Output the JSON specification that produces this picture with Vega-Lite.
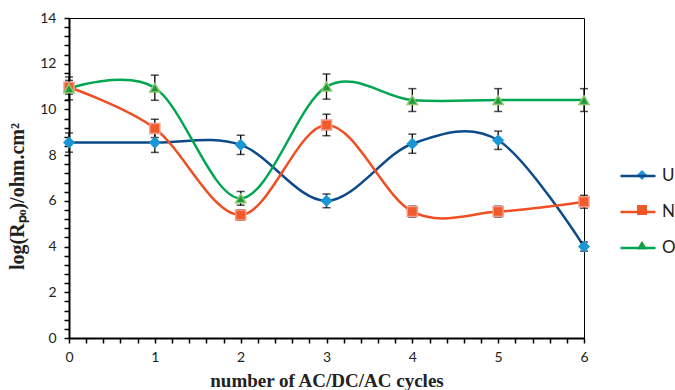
{
  "$schema": "https://vega.github.io/schema/vega-lite/v6.json",
  "width": 515,
  "height": 320,
  "autosize": {"type": "none"},
  "padding": {"left": 69, "top": 18, "right": 91, "bottom": 52},
  "background": "white",
  "config": {
    "view": {"stroke": "#000", "strokeWidth": 1},
    "axis": {"grid": false, "domainColor": "#000", "domainWidth": 2, "tickColor": "#000", "tickWidth": 1.5, "labelFont": "Lato", "labelFontSize": 14, "labelColor": "#222", "titleFont": "Liberation Serif", "titleFontWeight": "bold", "titleColor": "#222"}
  },
  "data": {
    "values": [
      {"series": "U", "x": 0, "y": 8.55, "lo": 8.13, "hi": 8.97},
      {"series": "U", "x": 1, "y": 8.55, "lo": 8.12, "hi": 8.98},
      {"series": "U", "x": 2, "y": 8.45, "lo": 8.03, "hi": 8.87},
      {"series": "U", "x": 3, "y": 6.0, "lo": 5.7, "hi": 6.3},
      {"series": "U", "x": 4, "y": 8.5, "lo": 8.08, "hi": 8.92},
      {"series": "U", "x": 5, "y": 8.65, "lo": 8.25, "hi": 9.05},
      {"series": "U", "x": 6, "y": 4.0, "lo": 3.8, "hi": 4.2},
      {"series": "N", "x": 0, "y": 10.97, "lo": 10.67, "hi": 11.27},
      {"series": "N", "x": 1, "y": 9.17, "lo": 8.77, "hi": 9.57},
      {"series": "N", "x": 2, "y": 5.38, "lo": 5.15, "hi": 5.61},
      {"series": "N", "x": 3, "y": 9.32, "lo": 8.85, "hi": 9.79},
      {"series": "N", "x": 4, "y": 5.53, "lo": 5.29, "hi": 5.77},
      {"series": "N", "x": 5, "y": 5.53, "lo": 5.29, "hi": 5.77},
      {"series": "N", "x": 6, "y": 5.96, "lo": 5.68, "hi": 6.24},
      {"series": "O", "x": 0, "y": 10.92, "lo": 10.42, "hi": 11.42},
      {"series": "O", "x": 1, "y": 10.95, "lo": 10.4, "hi": 11.5},
      {"series": "O", "x": 2, "y": 6.11, "lo": 5.81, "hi": 6.41},
      {"series": "O", "x": 3, "y": 11.0, "lo": 10.45, "hi": 11.55},
      {"series": "O", "x": 4, "y": 10.41, "lo": 9.91, "hi": 10.91},
      {"series": "O", "x": 5, "y": 10.41, "lo": 9.91, "hi": 10.91},
      {"series": "O", "x": 6, "y": 10.41, "lo": 9.91, "hi": 10.91}
    ]
  },
  "encoding": {
    "x": {
      "field": "x", "type": "quantitative",
      "scale": {"domain": [0, 6], "nice": false, "zero": false},
      "axis": {
        "values": [0,0.2,0.4,0.6,0.8,1,1.2,1.4,1.6,1.8,2,2.2,2.4,2.6,2.8,3,3.2,3.4,3.6,3.8,4,4.2,4.4,4.6,4.8,5,5.2,5.4,5.6,5.8,6],
        "labelExpr": "abs(datum.value - round(datum.value)) < 0.01 ? format(round(datum.value), 'd') : ''",
        "tickSize": 5, "labelPadding": 7, "labelFlush": false,
        "title": "number of AC/DC/AC cycles", "titleFontSize": 19,
        "titleBaseline": "alphabetic", "titleY": 48
      }
    },
    "y": {
      "field": "y", "type": "quantitative",
      "scale": {"domain": [0, 14], "nice": false},
      "axis": {
        "values": [0,0.4,0.8,1.2,1.6,2,2.4,2.8,3.2,3.6,4,4.4,4.8,5.2,5.6,6,6.4,6.8,7.2,7.6,8,8.4,8.8,9.2,9.6,10,10.4,10.8,11.2,11.6,12,12.4,12.8,13.2,13.6,14],
        "labelExpr": "abs(datum.value/2 - round(datum.value/2)) < 0.01 ? format(round(datum.value), 'd') : ''",
        "tickSize": 5, "labelPadding": 8, "labelFlush": false,
        "title": "log(Rₚₒ)/ohm.cm²", "titleFontSize": 20,
        "titleX": -42, "titleY": 178, "titleBaseline": "bottom", "titleAngle": -90
      }
    }
  },
  "layer": [
    {
      "mark": {"type": "line", "interpolate": "cardinal", "tension": 0, "strokeWidth": 2.5},
      "encoding": {
        "stroke": {
          "field": "series", "type": "nominal",
          "scale": {"domain": ["U", "N", "O"], "range": ["#0d4a8a", "#f04e23", "#00a651"]},
          "legend": {"orient": "none", "legendX": 550, "legendY": 139, "title": null, "symbolType": "stroke", "symbolSize": 1225, "symbolStrokeWidth": 2.5, "labelFont": "Lato", "labelFontSize": 17, "labelColor": "#222", "labelOffset": 5, "rowPadding": 9, "padding": 0}
        }
      }
    },
    {
      "mark": {"type": "rule", "color": "#000", "strokeWidth": 1.3},
      "encoding": {"y": {"field": "lo", "type": "quantitative"}, "y2": {"field": "hi"}}
    },
    {
      "mark": {"type": "tick", "orient": "horizontal", "color": "#000", "size": 8, "thickness": 1.5},
      "encoding": {"y": {"field": "lo", "type": "quantitative"}}
    },
    {
      "mark": {"type": "tick", "orient": "horizontal", "color": "#000", "size": 8, "thickness": 1.5},
      "encoding": {"y": {"field": "hi", "type": "quantitative"}}
    },
    {
      "mark": {"type": "point", "filled": true, "size": 100, "opacity": 1, "strokeWidth": 1.5, "strokeOpacity": 1},
      "encoding": {
        "fill": {
          "field": "series", "type": "nominal",
          "scale": {"domain": ["U", "N", "O"], "range": ["#1a97d4", "#f15a29", "#1a9b3e"]},
          "legend": {"orient": "none", "legendX": 565, "legendY": 149, "title": null, "symbolSize": 100, "labelFontSize": 16, "labelExpr": "''", "rowPadding": 19, "padding": 0}
        },
        "shape": {
          "field": "series", "type": "nominal",
          "scale": {"domain": ["U", "N", "O"], "range": ["diamond", "square", "triangle-up"]}
        },
        "stroke": {
          "field": "series", "type": "nominal",
          "scale": {"domain": ["U", "N", "O"], "range": ["#1a97d4", "#f59a8a", "#8cc56e"]},
          "legend": null
        }
      }
    }
  ],
  "resolve": {"scale": {"stroke": "independent"}}
}
